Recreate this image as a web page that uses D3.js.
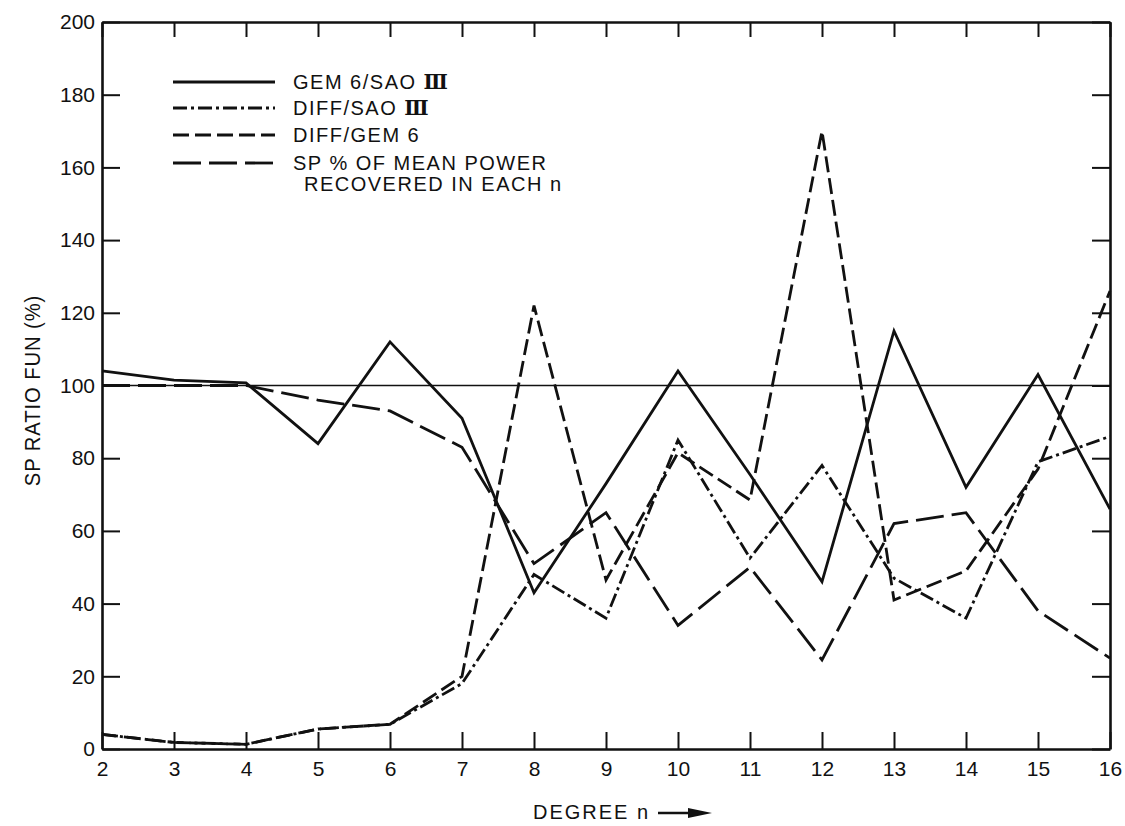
<!DOCTYPE html>
<html>
<head>
<meta charset="utf-8">
<script src="https://cdn.jsdelivr.net/npm/d3@7"></script>
<style>
body { margin: 0; background: #fff; }
text { font-family: "Liberation Sans", Arial, sans-serif; fill: #111; }
</style>
</head>
<body>
<script>
var width = 1125, height = 826;

// degree n
var degrees = [2, 3, 4, 5, 6, 7, 8, 9, 10, 11, 12, 13, 14, 15, 16];
var gemSao  = [104, 101.5, 100.7, 84, 112, 91, 43, 73, 104, 75.5, 46, 115, 72, 103, 66];
var diffSao = [4, 1.8, 1.3, 5.5, 6.8, 18, 48, 36, 85, 52.5, 78, 47, 36, 79, 86];
var diffGem = [4, 1.8, 1.3, 5.5, 6.8, 20, 122, 46.5, 81.5, 68.5, 170, 41, 49, 77, 126];
var spPower = [100, 100, 100, 96, 93, 83, 51, 65, 34, 50, 24.5, 62, 65, 38, 25];
var yTicks = [0, 20, 40, 60, 80, 100, 120, 140, 160, 180, 200];

var series = [
  {name: "GEM 6/SAO ", roman: true, values: gemSao, dash: null},
  {name: "DIFF/SAO ", roman: true, values: diffSao, dash: "14,4,3,4"},
  {name: "DIFF/GEM 6", roman: false, values: diffGem, dash: "16,6"},
  {name: "SP % OF MEAN POWER", roman: false, values: spPower, dash: "28,8", extra: "RECOVERED IN EACH n"}
];

var svg = d3.select("body").append("svg")
    .attr("width", width).attr("height", height);

var x = d3.scaleLinear().domain([2, 16]).range([102, 1110]);
var y = d3.scaleLinear().domain([0, 200]).range([749, 22]);

// reference line at 100
svg.append("line")
    .attr("x1", x(2)).attr("x2", x(16))
    .attr("y1", y(100)).attr("y2", y(100))
    .attr("stroke", "#111").attr("stroke-width", 1.6);

// curves
var line = d3.line()
    .x(function(d, i) { return x(degrees[i]); })
    .y(function(d) { return y(d); });

svg.selectAll("path.curve").data(series).enter().append("path")
    .attr("class", "curve")
    .attr("d", function(d) { return line(d.values); })
    .attr("fill", "none")
    .attr("stroke", "#111")
    .attr("stroke-width", 2.8)
    .attr("stroke-linejoin", "miter")
    .attr("stroke-dasharray", function(d) { return d.dash; });

// axes with inward ticks
var bottom = svg.append("g").attr("transform", "translate(0," + y(0) + ")")
    .call(d3.axisBottom(x).tickValues(degrees).tickSizeInner(-17).tickSizeOuter(0).tickPadding(8));
var top = svg.append("g").attr("transform", "translate(0," + y(200) + ")")
    .call(d3.axisTop(x).tickValues(degrees).tickSizeInner(-15).tickSizeOuter(0).tickFormat(""));
var left = svg.append("g").attr("transform", "translate(" + x(2) + ",0)")
    .call(d3.axisLeft(y).tickValues(yTicks).tickSizeInner(-18).tickSizeOuter(0).tickPadding(8));
var right = svg.append("g").attr("transform", "translate(" + x(16) + ",0)")
    .call(d3.axisRight(y).tickValues(yTicks).tickSizeInner(-18).tickSizeOuter(0).tickFormat(""));

svg.selectAll(".domain").attr("stroke", "#111").attr("stroke-width", 2.6);
svg.selectAll(".tick line").attr("stroke", "#111").attr("stroke-width", 2);
svg.selectAll(".tick text").style("font-family", "Liberation Sans, Arial, sans-serif")
    .style("font-size", "21px").attr("fill", "#111");
bottom.selectAll(".tick text").attr("dy", "0.9em");
left.selectAll(".tick text").attr("x", -7);

// axis titles
svg.append("text")
    .attr("transform", "translate(40," + ((y(0) + y(200)) / 2 + 5) + ") rotate(-90) scale(0.92,1)")
    .attr("text-anchor", "middle")
    .style("font-size", "22px")
    .style("letter-spacing", "1px")
    .text("SP RATIO FUN (%)");

svg.append("text")
    .attr("x", 533).attr("y", 819)
    .style("font-size", "20px")
    .style("letter-spacing", "2px")
    .text("DEGREE n");
svg.append("line")
    .attr("x1", 658).attr("x2", 695).attr("y1", 813).attr("y2", 813)
    .attr("stroke", "#111").attr("stroke-width", 2.5);
svg.append("path")
    .attr("d", "M688,808 L712,813 L688,818 Z")
    .attr("fill", "#111");

// legend
var legend = svg.append("g").selectAll("g").data(series).enter().append("g")
    .attr("transform", function(d, i) { return "translate(0," + [82, 108, 135, 163][i] + ")"; });
legend.append("line")
    .attr("x1", 173).attr("x2", 275).attr("y1", 0).attr("y2", 0)
    .attr("stroke", "#111").attr("stroke-width", 2.8)
    .attr("stroke-dasharray", function(d) { return d.dash; });
var lt = legend.append("text")
    .attr("x", 293).attr("y", 7)
    .style("font-size", "20px")
    .style("letter-spacing", "1.5px");
lt.append("tspan").text(function(d) { return d.name; });
lt.filter(function(d) { return d.roman; }).append("tspan")
    .style("font-family", "DejaVu Serif, serif")
    .style("font-weight", "bold")
    .text("\u2162");
legend.filter(function(d) { return d.extra; }).append("text")
    .attr("x", 304).attr("y", 28)
    .style("font-size", "20px")
    .style("letter-spacing", "1.5px")
    .text(function(d) { return d.extra; });
</script>
</body>
</html>
